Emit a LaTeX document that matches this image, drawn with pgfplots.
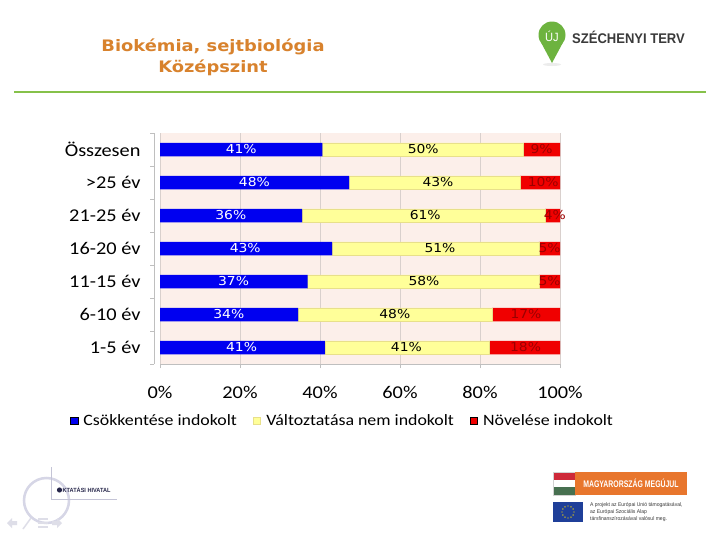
\documentclass[border=0pt]{standalone}
\usepackage{fontspec}
\usepackage{pgfplots}
\pgfplotsset{compat=1.18}
\setmainfont{Carlito}[FakeStretch=1.13]
\newfontfamily\dv{DejaVu Sans}[FakeStretch=1.13]
\newfontfamily\lsans{Liberation Sans}[FakeStretch=0.93]
\newfontfamily\lsanscond{Liberation Sans}[FakeStretch=0.72]
\definecolor{cblue}{HTML}{0000F0}
\definecolor{cyellow}{HTML}{FFFF99}
\definecolor{cyellowedge}{HTML}{E8E08A}
\definecolor{cred}{HTML}{F00000}
\definecolor{credtext}{HTML}{9B0000}
\definecolor{bgpink}{HTML}{FCEFEA}
\definecolor{gridgray}{HTML}{D9D0CD}
\definecolor{axgray}{HTML}{BFBFBF}
\definecolor{titleorange}{HTML}{D8822D}
\definecolor{greenline}{HTML}{86C14A}
\definecolor{pingreen}{HTML}{6DB33F}
\definecolor{logogray}{HTML}{3A3A3A}
\definecolor{hured}{HTML}{CE2939}
\definecolor{hugreen}{HTML}{477050}
\definecolor{magorange}{HTML}{E8762D}
\definecolor{eublue}{HTML}{1F3F99}
\definecolor{euyellow}{HTML}{FFDD00}
\definecolor{circlav}{HTML}{D6D6E6}
\definecolor{linelav}{HTML}{C4C4D6}
\definecolor{navy}{HTML}{26264A}
\definecolor{navfaint}{HTML}{DEDEE8}
\pgfplotsset{sq legend/.style={legend image code/.code={\draw[##1] (0bp,-3.5bp) rectangle (7.5bp,3.5bp); \path (11bp,0bp);}}}
\begin{document}
\begin{tikzpicture}
\path[use as bounding box, fill=white] (0,0) rectangle (720bp,-540bp);
\begin{scope}[x=1bp,y=-1bp]
  % title
  \node[font=\dv\bfseries\fontsize{15.8bp}{19bp}\selectfont, text=titleorange] at (213,47) {Biokémia, sejtbiológia};
  \node[font=\dv\bfseries\fontsize{15.8bp}{19bp}\selectfont, text=titleorange] at (213,68) {Középszint};
  \draw[greenline, line width=2bp] (14,91.5) -- (706,91.5);
  % top right logo
  \fill[gray!15] (552,64.5) ellipse (9 and 1.5);
  \fill[pingreen] (552,35) circle (13.5);
  \fill[pingreen] (540.5,41.5) -- (552,63) -- (563.5,41.5) -- cycle;
  \node[text=white, font=\lsans\fontsize{12bp}{13bp}\selectfont] at (552,36.5) {ÚJ};
  \node[anchor=west, text=logogray, inner sep=0pt, font=\lsans\bfseries\fontsize{14bp}{16bp}\selectfont] at (572,37) {SZÉCHENYI TERV};
  % bottom right logos
  \fill[hured] (553,472) rectangle (575,479.7);
  \fill[white] (553,479.7) rectangle (575,487.3);
  \fill[hugreen] (553,487.3) rectangle (575,495);
  \draw[gray!35, line width=0.3bp] (553,472) rectangle (575,495);
  \fill[magorange] (575,472) rectangle (687,495);
  \node[text=white, font=\lsanscond\bfseries\fontsize{9.6bp}{11bp}\selectfont] at (631,483.5) {MAGYARORSZÁG MEGÚJUL};
  \fill[eublue] (553,502) rectangle (583,522);
  \foreach \a in {0,30,...,330} \fill[euyellow] (568,512) ++(\a:6) circle (0.7);
  \node[anchor=west, inner sep=0pt, text=logogray, align=left, font=\lsans\fontsize{5.4bp}{6.8bp}\selectfont] at (590,512) {A projekt az Európai Unió támogatásával,\\az Európai Szociális Alap\\társfinanszírozásával valósul meg.};
  % bottom left logo
  \draw[circlav, line width=2.5bp] (46.5,500.5) circle (22.5);
  \draw[linelav, line width=0.6bp] (51,467) -- (51,499) -- (117,499);
  \fill[navy] (59.5,490) circle (2.6);
  \node[anchor=west, inner sep=0pt, text=navy, font=\lsans\bfseries\fontsize{6bp}{7bp}\selectfont] at (62.5,490) {KTATÁSI HIVATAL};
  % faint navigation icons
  \fill[navfaint] (7,523) -- (12,518) -- (12,521) -- (17,521) -- (17,525) -- (12,525) -- (12,528) -- cycle;
  \draw[navfaint, line width=1.5bp] (23,529) -- (31,518);
  \draw[navfaint, line width=1.2bp] (38,519) -- (48,519) (38,523) -- (48,523) (38,527) -- (48,527);
  \fill[navfaint] (62,523) -- (57,518) -- (57,521) -- (52,521) -- (52,525) -- (57,525) -- (57,528) -- cycle;
\end{scope}

\begin{axis}[
  at={(160bp,-364bp)}, anchor=south west,
  scale only axis, width=400bp, height=231bp,
  xbar stacked, bar width=13.5bp,
  xmin=0, xmax=100, ymin=-0.5, ymax=6.5,
  axis background/.style={fill=bgpink},
  axis x line*=bottom, axis y line*=left,
  x axis line style={draw=axgray,-},
  y axis line style={draw=axgray,-,xshift=-6bp},
  xtick={0,20,40,60,80,100},
  xticklabels={0\%,20\%,40\%,60\%,80\%,100\%},
  ytick={0,1,2,3,4,5,6},
  yticklabels={1-5 év,6-10 év,11-15 év,16-20 év,21-25 év,>25 év,Összesen},
  minor ytick={-0.5,0.5,1.5,2.5,3.5,4.5,5.5,6.5},
  tick align=outside,
  major tick length=4bp, minor tick length=4bp,
  major y tick style={draw=none},
  minor y tick style={draw=axgray, xshift=-6bp},
  major x tick style={draw=axgray},
  xmajorgrids, major x grid style={draw=gridgray, line width=0.5bp},
  ticklabel style={font=\fontsize{18bp}{21bp}\selectfont, text=black},
  xticklabel style={yshift=-15bp},
  yticklabel style={xshift=-12bp},
  legend style={at={(-0.2325,-0.247)}, anchor=west, draw=none, fill=none,
    font=\fontsize{15.8bp}{18bp}\selectfont, legend columns=3,
    /tikz/every even column/.append style={column sep=14bp}},
  legend cell align=left,
]
\addplot[fill=cblue, draw=none, sq legend] coordinates {(41.2,0) (34.5,1) (36.9,2) (43.0,3) (35.5,4) (47.3,5) (40.6,6)};
\addplot[fill=cyellow, draw=cyellowedge, line width=0.4bp, sq legend] coordinates {(41.2,0) (48.5,1) (57.8,2) (51.7,3) (60.8,4) (42.7,5) (50.3,6)};
\addplot[fill=cred, draw=none, sq legend] coordinates {(17.6,0) (17.0,1) (5.3,2) (5.3,3) (3.7,4) (10.0,5) (9.1,6)};
\legend{Csökkentése indokolt, Változtatása nem indokolt, Növelése indokolt}
\end{axis}

\begin{axis}[
  at={(160bp,-364bp)}, anchor=south west,
  scale only axis, width=400bp, height=231bp,
  xmin=0, xmax=100, ymin=-0.5, ymax=6.5,
  hide axis, clip=false,
  nodes near coords={\pgfplotspointmeta\%},
  point meta=explicit symbolic,
  every node near coord/.append style={anchor=center, inner sep=0pt, font=\dv\fontsize{12.3bp}{14bp}\selectfont},
]
\addplot[draw=none, mark=none, every node near coord/.append style={text=white}] table[meta=l] {
x y l
20.4 0 41
17.2 1 34
18.4 2 37
21.3 3 43
17.7 4 36
23.6 5 48
20.3 6 41
};
\addplot[draw=none, mark=none, every node near coord/.append style={text=black}] table[meta=l] {
x y l
61.6 0 41
58.7 1 48
66.0 2 58
70.0 3 51
66.3 4 61
69.5 5 43
65.8 6 50
};
\addplot[draw=none, mark=none, every node near coord/.append style={text=credtext}] table[meta=l] {
x y l
91.4 0 18
91.5 1 17
97.4 2 5
97.4 3 5
98.7 4 4
95.8 5 10
95.4 6 9
};
\end{axis}
\end{tikzpicture}
\end{document}
